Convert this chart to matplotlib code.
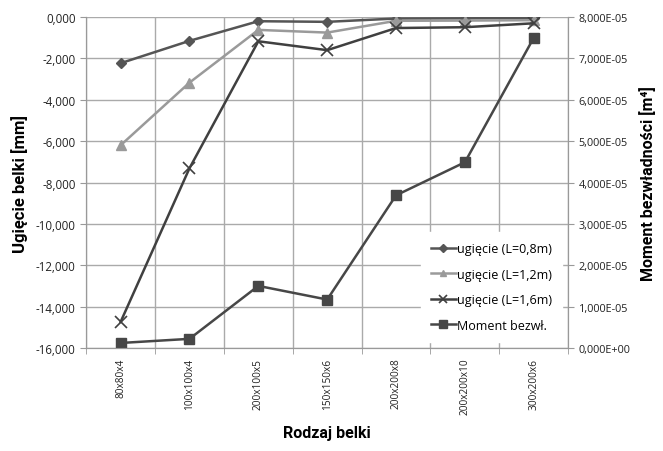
import matplotlib
matplotlib.use("Agg")
import matplotlib.pyplot as plt
from matplotlib.ticker import FuncFormatter, FixedLocator

categories = ["80x80x4", "100x100x4", "200x100x5", "150x150x6", "200x200x8", "200x200x10", "300x200x6"]
ugiecie_08 = [-2.23, -1.15, -0.20, -0.23, -0.07, -0.06, -0.04]
ugiecie_12 = [-6.20, -3.17, -0.62, -0.75, -0.18, -0.17, -0.15]
ugiecie_16 = [-14.74, -7.31, -1.17, -1.60, -0.53, -0.49, -0.30]
moment = [1.2e-6, 2.2e-6, 1.50e-5, 1.17e-5, 3.69e-5, 4.49e-5, 7.50e-5]

label_08 = "ugięcie (L=0,8m)"
label_12 = "ugięcie (L=1,2m)"
label_16 = "ugięcie (L=1,6m)"
label_m = "Moment bezwł."

fig = plt.figure(figsize=(6.63, 4.52), dpi=100)
ax = fig.add_axes([0.130, 0.228, 0.727, 0.732])
ax2 = ax.twinx()

x = list(range(len(categories)))
c08 = "#555555"
c12 = "#9a9a9a"
c16 = "#404040"
cm = "#474747"

l1, = ax.plot(x, ugiecie_08, color=c08, lw=1.8, marker="D", ms=5.5, label=label_08)
l2, = ax.plot(x, ugiecie_12, color=c12, lw=1.8, marker="^", ms=7, label=label_12)
l3, = ax.plot(x, ugiecie_16, color=c16, lw=1.8, marker="x", ms=8, mew=1.2, label=label_16)
l4, = ax2.plot(x, moment, color=cm, lw=1.8, marker="s", ms=7.5, label=label_m)

ax.set_xlim(-0.5, len(categories) - 0.5)
ax.set_ylim(-16, 0)
ax2.set_ylim(0, 8e-5)
ax.set_yticks([-16, -14, -12, -10, -8, -6, -4, -2, 0])
ax2.set_yticks([i * 1e-5 for i in range(9)])

ax.yaxis.set_major_formatter(FuncFormatter(lambda v, p: f"{v:.3f}".replace(".", ",").replace("-0,000", "0,000")))

def sci_fmt(v, p):
    if abs(v) < 1e-12:
        return "0,000E+00"
    s = f"{v:.3E}"
    return s.replace(".", ",")
ax2.yaxis.set_major_formatter(FuncFormatter(sci_fmt))

ax.set_xticks(x)
ax.set_xticklabels(categories, rotation=90, fontsize=7.3, family="Open Sans", color="#222222")
ax.xaxis.set_minor_locator(FixedLocator([i - 0.5 for i in range(len(categories) + 1)]))
ax.tick_params(axis="x", which="major", length=0, pad=7)
ax.tick_params(axis="x", which="minor", length=4, direction="out", color="#999999")
ax.grid(True, which="minor", axis="x", color="#aaaaaa", lw=1.0)
ax.grid(True, which="major", axis="y", color="#aaaaaa", lw=1.0)
ax.set_axisbelow(True)

ax.tick_params(axis="y", labelsize=8.3, length=4, color="#999999", labelcolor="#222222")
ax2.tick_params(axis="y", labelsize=7.8, length=4, color="#999999", labelcolor="#222222")
for lab in ax.get_yticklabels() + ax2.get_yticklabels():
    lab.set_family("Open Sans")

for a in (ax, ax2):
    for s in a.spines.values():
        s.set_color("#999999")
    a.spines["top"].set_visible(False)

ax.set_ylabel("Ugięcie belki [mm]", fontsize=12, fontweight="bold", family="Roboto", labelpad=6)
ax2.set_ylabel("Moment bezwładności [m⁴]", fontsize=11.5, fontweight="bold",
               family=["Roboto", "DejaVu Sans"], labelpad=6)
ax.set_xlabel("Rodzaj belki", fontsize=11.5, fontweight="bold", family="Roboto", labelpad=8)

leg = ax2.legend(handles=[l1, l2, l3, l4], loc="lower right", bbox_to_anchor=(1.0, 0.0),
                 frameon=True, fancybox=False, edgecolor="white", facecolor="white", framealpha=1,
                 prop={"family": "Open Sans", "size": 9}, handlelength=2.0, handletextpad=0.1,
                 labelspacing=1.0, borderpad=0.8, markerscale=0.7)
leg.set_zorder(10)

fig.savefig("out.png", dpi=100)
